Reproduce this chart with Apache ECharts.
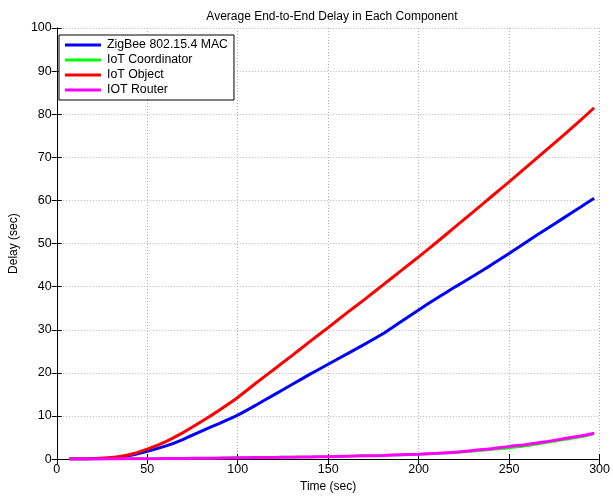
<!DOCTYPE html>
<html><head><meta charset="utf-8">
<script src="https://cdn.jsdelivr.net/npm/echarts@6/dist/echarts.min.js"></script>
<style>html,body{margin:0;padding:0;background:#fff}#c{width:613px;height:498px}</style>
</head><body><div id="c"></div>
<script>
const time = [7,10,20,30,40,50,60,70,80,90,100,110,120,130,140,150,160,170,180,190,200,210,220,230,240,250,260,270,280,290,297];
const zigbeeMac = [0,0,0.05,0.2,0.8,1.8,3.0,4.6,6.5,8.3,10.2,12.5,14.9,17.3,19.7,22.0,24.3,26.6,29.0,31.8,34.6,37.3,39.9,42.4,45.0,47.7,50.5,53.2,55.9,58.6,60.5];
const iotCoordinator = [0.05,0.05,0.05,0.05,0.08,0.1,0.12,0.15,0.2,0.25,0.35,0.45,0.45,0.5,0.5,0.55,0.65,0.75,0.85,0.95,1.1,1.3,1.5,1.8,2.2,2.6,3.1,3.8,4.5,5.2,5.9];
const iotObject = [0,0,0.1,0.35,1.0,2.3,4.0,6.2,8.7,11.4,14.3,17.6,20.8,24.0,27.3,30.5,33.8,37.0,40.3,43.6,46.9,50.3,53.8,57.3,60.8,64.3,67.9,71.5,75.1,78.8,81.5];
const iotRouter = [0.05,0.05,0.05,0.05,0.08,0.1,0.12,0.15,0.2,0.25,0.3,0.35,0.4,0.45,0.5,0.55,0.65,0.75,0.85,1.0,1.15,1.35,1.6,2.0,2.4,2.95,3.4,4.0,4.7,5.4,6.0];
const xTicks = [0,50,100,150,200,250,300];
const yTicks = [0,10,20,30,40,50,60,70,80,90,100];
const seriesNames = ['ZigBee 802.15.4 MAC','IoT Coordinator','IoT Object','IOT Router'];
const seriesColors = ['#0000ff','#00ff00','#ff0000','#ff00ff'];
const seriesData = [zigbeeMac, iotCoordinator, iotObject, iotRouter];

const font = 'Liberation Sans, Arial, Helvetica, sans-serif';
const chart = echarts.init(document.getElementById('c'));
const gridLine = {show:true, lineStyle:{color:'#b0b0b0', type:[1,2], width:1}};
const axisLineStyle = {show:true, lineStyle:{color:'#000', width:1}};
chart.setOption({
  animation:false,
  backgroundColor:'#fff',
  title:{text:'Average End-to-End Delay in Each Component', left:327, top:6, textAlign:'center',
    textStyle:{fontFamily:font, fontSize:12, fontWeight:'normal', color:'#000'}},
  legend:{orient:'vertical', left:59, top:35, data:seriesNames, icon:'rect', itemWidth:36, itemHeight:3, itemGap:3,
    borderColor:'#000', borderWidth:1, padding:[4,6,4,6], backgroundColor:'#fff',
    textStyle:{fontFamily:font, fontSize:12.3, color:'#000', padding:[0,4,0,1]}},
  grid:{left:52, right:9, top:28, bottom:36, containLabel:false},
  xAxis:[{type:'value', min:xTicks[0], max:xTicks[xTicks.length-1], interval:50, name:'Time (sec)', nameLocation:'middle', nameGap:19,
    nameTextStyle:{fontFamily:font, fontSize:12, color:'#000'},
    axisLine:axisLineStyle, axisTick:{show:true, inside:true, length:5, lineStyle:{color:'#000'}},
    axisLabel:{fontFamily:font, fontSize:12.5, color:'#000', margin:4}, splitLine:gridLine},
    {type:'value', position:'top', min:xTicks[0], max:xTicks[xTicks.length-1], interval:50,
    axisLine:axisLineStyle, axisTick:{show:true, inside:true, length:5, lineStyle:{color:'#000'}}, axisLabel:{show:false}, splitLine:{show:false}}],
  yAxis:[{type:'value', min:yTicks[0], max:yTicks[yTicks.length-1], interval:10, name:'Delay (sec)', nameLocation:'middle', nameGap:32, nameRotate:90,
    nameTextStyle:{fontFamily:font, fontSize:12, color:'#000'},
    axisLine:axisLineStyle, axisTick:{show:true, inside:true, length:5, lineStyle:{color:'#000'}},
    axisLabel:{fontFamily:font, fontSize:12.5, color:'#000', margin:5}, splitLine:gridLine},
    {type:'value', position:'right', min:yTicks[0], max:yTicks[yTicks.length-1], interval:10,
    axisLine:axisLineStyle, axisTick:{show:true, inside:true, length:5, lineStyle:{color:'#000'}}, axisLabel:{show:false}, splitLine:{show:false}}],
  series: seriesNames.map((n,i)=>({
    name:n, type:'line', xAxisIndex:0, yAxisIndex:0, showSymbol:false, symbol:'none',
    data: time.map((t,j)=>[t, seriesData[i][j]]),
    smooth:0.2,
    lineStyle:{color:seriesColors[i], width: i===1 ? 2.5 : 3},
    itemStyle:{color:seriesColors[i]}
  }))
});
</script></body></html>
